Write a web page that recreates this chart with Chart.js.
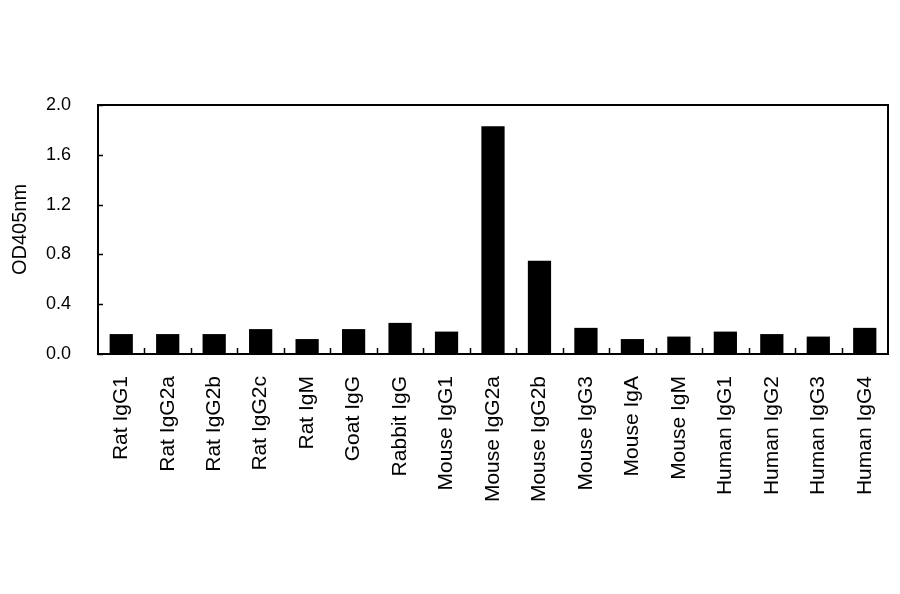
<!DOCTYPE html>
<html>
<head>
<meta charset="utf-8">
<script src="https://cdn.jsdelivr.net/npm/chart.js@4/dist/chart.umd.min.js"></script>
<style>
  html, body { margin: 0; padding: 0; background: #fff; }
  #wrap { width: 900px; height: 594px; }
</style>
</head>
<body>
<div id="wrap"><canvas id="chart"></canvas></div>
<script>
// --- data ---
const categories = [
  'Rat IgG1', 'Rat IgG2a', 'Rat IgG2b', 'Rat IgG2c', 'Rat IgM', 'Goat IgG',
  'Rabbit IgG', 'Mouse IgG1', 'Mouse IgG2a', 'Mouse IgG2b', 'Mouse IgG3',
  'Mouse IgA', 'Mouse IgM', 'Human IgG1', 'Human IgG2', 'Human IgG3', 'Human IgG4'
];
const odValues = [
  0.16, 0.16, 0.16, 0.20, 0.12, 0.20,
  0.25, 0.18, 1.83, 0.75, 0.21,
  0.12, 0.14, 0.18, 0.16, 0.14, 0.21
];
const yMin = 0, yMax = 2.0, yStep = 0.4;
const yTitle = 'OD405nm';

const FONT = 'Liberation Sans, Arial, sans-serif';

// frame round the plot plus the small inward tick marks
const framePlugin = {
  id: 'frame',
  afterDraw(chart) {
    const { ctx, chartArea: a, scales } = chart;
    ctx.save();
    ctx.strokeStyle = '#000';
    ctx.lineWidth = 2;
    ctx.strokeRect(a.left, a.top, a.right - a.left, a.bottom - a.top);

    ctx.lineWidth = 1.5;
    ctx.beginPath();
    // y ticks point into the plot
    for (let v = yMin; v <= yMax + 1e-9; v += yStep) {
      const y = Math.round(scales.y.getPixelForValue(v)) + 0.5;
      ctx.moveTo(a.left, y);
      ctx.lineTo(a.left + 5, y);
    }
    // x ticks between categories, pointing up
    for (let i = 1; i < categories.length; i++) {
      const x = Math.round((scales.x.getPixelForValue(i - 1) + scales.x.getPixelForValue(i)) / 2) + 0.5;
      ctx.moveTo(x, a.bottom);
      ctx.lineTo(x, a.bottom - 6);
    }
    ctx.stroke();
    ctx.restore();
  }
};

new Chart(document.getElementById('chart'), {
  type: 'bar',
  data: {
    labels: categories,
    datasets: [{
      data: odValues,
      backgroundColor: '#000',
      borderWidth: 0,
      barPercentage: 0.5,
      categoryPercentage: 1.0
    }]
  },
  options: {
    responsive: true,
    maintainAspectRatio: false,
    animation: false,
    layout: { padding: { top: 105, right: 12, bottom: 0, left: 0 } },
    plugins: { legend: { display: false }, tooltip: { enabled: false } },
    scales: {
      x: {
        grid: { display: false, drawTicks: false },
        border: { display: false },
        afterFit: s => {            // plot bottom near y=354, no label overhang
          s.height = 240;
          s.paddingLeft = 0;
          s.paddingRight = 0;
        },
        ticks: {
          color: '#000',
          font: { family: FONT, size: 21 },
          minRotation: 90,
          maxRotation: 90,
          autoSkip: false,
          padding: 22
        }
      },
      y: {
        min: yMin,
        max: yMax,
        grid: { display: false, drawTicks: false },
        border: { display: false },
        afterFit: s => { s.width = 98; },     // plot left edge at x=98
        ticks: {
          stepSize: yStep,
          color: '#000',
          font: { family: FONT, size: 18 },
          padding: 27,
          callback: v => Number(v).toFixed(1)
        },
        title: {
          display: true,
          text: yTitle,
          color: '#000',
          font: { family: FONT, size: 20 },
          padding: { top: 8, bottom: 0 }
        }
      }
    }
  },
  plugins: [framePlugin]
});
</script>
</body>
</html>
